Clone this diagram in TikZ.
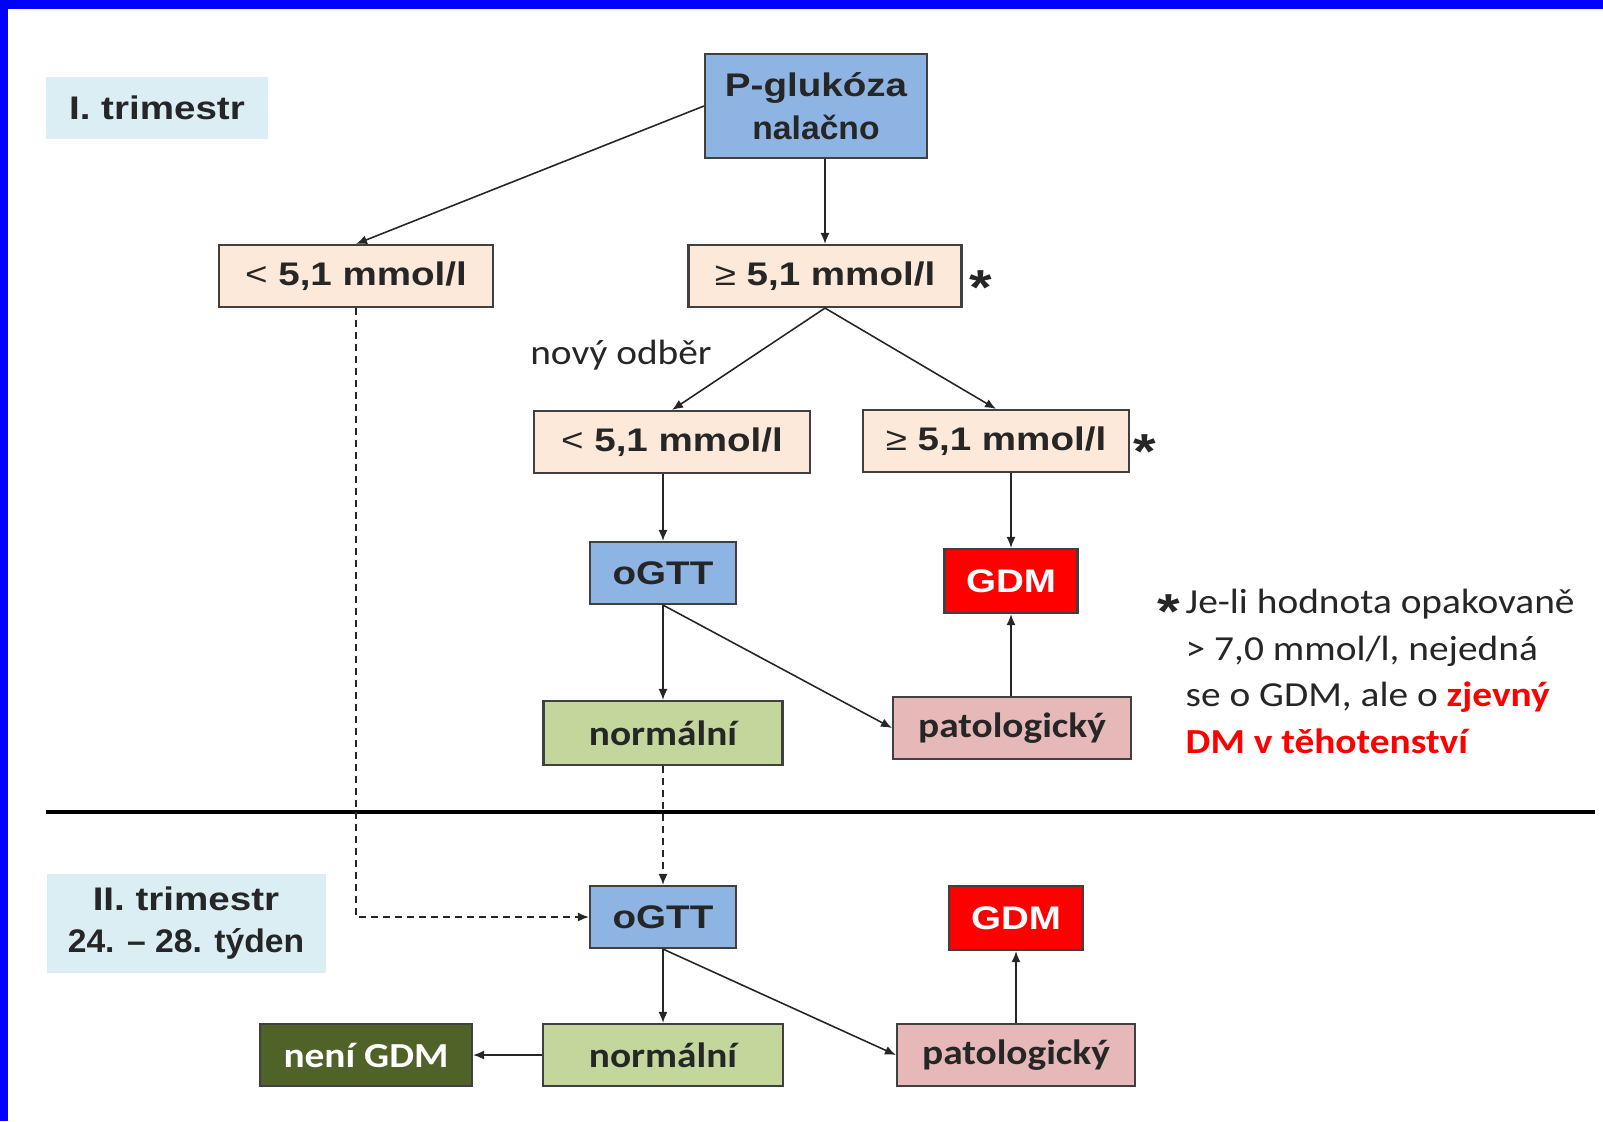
\documentclass[tikz,border=0pt]{standalone}
\usepackage{fontspec}
\setmainfont[FakeStretch=1.18]{Liberation Sans}
\newfontfamily\uzke[FakeStretch=1.03]{Liberation Sans}
\newfontfamily\calibri[FakeStretch=1.12]{Carlito}
\usepackage{tikz}
\usetikzlibrary{arrows.meta}
\definecolor{ramec}{HTML}{0000FF}
\definecolor{svetlemodra}{HTML}{DBEEF4}
\definecolor{modra}{HTML}{8DB4E2}
\definecolor{broskev}{HTML}{FDE9D9}
\definecolor{cervena}{HTML}{FF0000}
\definecolor{zelena}{HTML}{C3D69B}
\definecolor{ruzova}{HTML}{E6B9B8}
\definecolor{tmavezelena}{HTML}{4F6228}
\definecolor{okraj}{HTML}{404040}
\definecolor{popis}{HTML}{262626}
\tikzstyle{stitek} = [rectangle, fill=svetlemodra, align=center, inner sep=0pt,
font=\bfseries\fontsize{9.3}{12.2}\selectfont, text=popis]
\tikzstyle{krabice} = [rectangle, draw=okraj, line width=0.6pt, align=center, inner sep=0pt,
minimum height=6.2mm, font=\bfseries\fontsize{9.3}{12.2}\selectfont, text=popis]
\tikzstyle{test} = [krabice, fill=modra]
\tikzstyle{hodnota} = [krabice, fill=broskev]
\tikzstyle{gdm} = [krabice, fill=cervena, text=white, minimum height=6.4mm]
\tikzstyle{normal} = [krabice, fill=zelena, font=\calibri\bfseries\fontsize{10}{12}\selectfont]
\tikzstyle{patol} = [krabice, fill=ruzova, font=\calibri\bfseries\fontsize{10}{12}\selectfont]
\tikzstyle{negdm} = [krabice, fill=tmavezelena, text=white, font=\calibri\bfseries\fontsize{10}{12}\selectfont]
\tikzstyle{hvezda} = [inner sep=0pt, anchor=base, font=\bfseries\fontsize{14}{14}\selectfont, text=popis]
\tikzstyle{arrow} = [line width=0.45pt, draw=popis, ->, >={Latex[length=1.1mm,width=0.9mm]}]
\tikzstyle{carka} = [arrow, dash pattern=on 0.7mm off 0.5mm]
\begin{document}
\begin{tikzpicture}[x=0.1mm, y=-0.1mm]
\useasboundingbox (0,0) rectangle (1603,1121);
\fill[ramec] (0,0) rectangle (1603,9);
\fill[ramec] (0,0) rectangle (8,1121);

% I. trimestr
\node (t1) at (157,108) [stitek, minimum width=22.2mm, minimum height=6.2mm] {I. trimestr};
\node (pg) at (816,106) [test, minimum width=22.2mm, minimum height=10.4mm] {P-glukóza\\\uzke nalačno};
\node (m1) at (356,276) [hodnota, minimum width=27.4mm] {{\mdseries <} 5,1 mmol/l};
\node (v1) at (825,276) [hodnota, minimum width=27.3mm] {{\mdseries ≥} 5,1 mmol/l};
\node (h1) at (981,304) [hvezda] {*};
\node (no) at (621,355) [font=\calibri\fontsize{10}{12}\selectfont, text=popis] {nový odběr};
\node (m2) at (672,442) [hodnota, minimum width=27.6mm] {{\mdseries <} 5,1 mmol/l};
\node (v2) at (996,441) [hodnota, minimum width=26.6mm] {{\mdseries ≥} 5,1 mmol/l};
\node (h2) at (1145,468) [hvezda] {*};
\node (o1) at (663,573) [test, minimum width=14.6mm] {oGTT};
\node (g1) at (1011,581) [gdm, minimum width=13.3mm] {GDM};
\node (n1) at (663,733) [normal, minimum width=23.9mm, minimum height=6.4mm] {normální};
\node (p1) at (1012,728) [patol, minimum width=23.8mm] {patologický};

% poznamka
\node (h3) at (1169,628) [hvezda] {*};
\node (pozn) at (1185,753) [anchor=base west, align=left, inner sep=0pt, text=popis,
font=\calibri\fontsize{10}{13.2}\selectfont] {Je-li hodnota opakovaně\\
> 7,0 mmol/l, nejedná\\
se o GDM, ale o \textcolor{cervena}{\bfseries zjevný}\\
\textcolor{cervena}{\bfseries DM v těhotenství}};

\draw[line width=1.2pt] (46,812) -- (1595,812);

% II. trimestr
\node (t2) at (186,923) [stitek, minimum width=27.9mm, minimum height=9.9mm] {II. trimestr\\\uzke 24. – 28. týden};
\node (o2) at (663,917) [test, minimum width=14.6mm] {oGTT};
\node (g2) at (1016,918) [gdm, minimum width=13.4mm] {GDM};
\node (ng) at (366,1055) [negdm, minimum width=21.2mm] {není GDM};
\node (n2) at (663,1055) [normal, minimum width=24mm] {normální};
\node (p2) at (1016,1055) [patol, minimum width=23.8mm] {patologický};

\draw[arrow] (pg.west) -- (m1.north);
\draw[arrow] (pg.south -| v1.north) -- (v1.north);
\draw[arrow] (v1.south) -- (m2.north);
\draw[arrow] (v1.south) -- (v2.north);
\draw[arrow] (m2.south -| o1.north) -- (o1.north);
\draw[arrow] (v2.south -| g1.north) -- (g1.north);
\draw[arrow] (o1.south) -- (n1.north);
\draw[arrow] (o1.south) -- (p1.west);
\draw[arrow] (p1.north -| g1.south) -- (g1.south);
\draw[carka] (m1.south) |- (o2.west);
\draw[carka] (n1.south) -- (o2.north);
\draw[arrow] (o2.south) -- (n2.north);
\draw[arrow] (o2.south) -- (p2.west);
\draw[arrow] (p2.north) -- (g2.south);
\draw[arrow] (n2.west) -- (ng.east);
\end{tikzpicture}
\end{document}
